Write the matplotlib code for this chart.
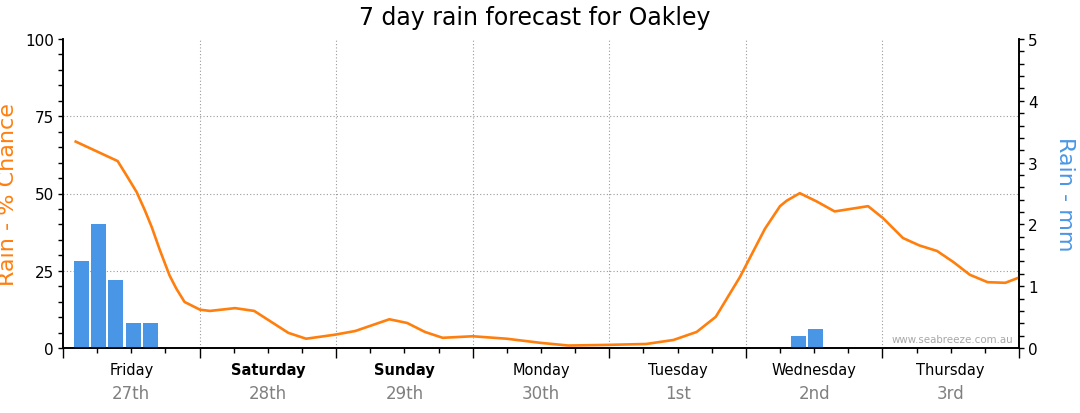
import numpy as np
import matplotlib
matplotlib.use("Agg")
import matplotlib.pyplot as plt
from matplotlib.transforms import blended_transform_factory

# ---- data ----
day_names = ["Friday", "Saturday", "Sunday", "Monday", "Tuesday", "Wednesday", "Thursday"]
day_dates = ["27th", "28th", "29th", "30th", "1st", "2nd", "3rd"]
weekend = [False, True, True, False, False, False, False]

# rain chance (%) vs time in days from start of Friday
chance_t = [0.093, 0.40, 0.466, 0.54, 0.60, 0.65, 0.71, 0.78, 0.83, 0.89,
            1.003, 1.076, 1.26, 1.40, 1.65, 1.78, 1.99, 2.14, 2.39, 2.52,
            2.65, 2.78, 3.0, 3.25, 3.49, 3.70, 3.98, 4.27, 4.47, 4.64,
            4.78, 4.957, 5.14, 5.25, 5.30, 5.395, 5.52, 5.65, 5.895, 6.005,
            6.15, 6.27, 6.40, 6.52, 6.64, 6.77, 6.90, 7.0]
chance_v = [66.8, 60.5, 55.8, 50.4, 44.5, 39.1, 31.6, 23.5, 19.2, 14.9,
            12.4, 12.0, 12.9, 12.0, 4.9, 3.0, 4.3, 5.5, 9.3, 8.1,
            5.2, 3.3, 3.8, 3.0, 1.7, 0.8, 1.0, 1.3, 2.6, 5.2,
            10.1, 23.0, 38.6, 45.9, 47.7, 50.1, 47.4, 44.2, 45.9, 42.0,
            35.6, 33.2, 31.4, 27.8, 23.7, 21.3, 21.1, 22.8]

# rain amount (mm) bars
rain_t = [0.135, 0.261, 0.387, 0.513, 0.639, 5.387, 5.513]
rain_mm = [1.4, 2.0, 1.1, 0.4, 0.4, 0.2, 0.3]

pct_ticks = [0, 25, 50, 75, 100]
mm_ticks = [0, 1, 2, 3, 4, 5]

ORANGE = "#ff7f0e"
BLUE = "#4a96e6"
GRID = "#9a9a9a"

plt.rcParams["font.family"] = ["DejaVu Sans"]

fig = plt.figure(figsize=(10.8, 4.14), dpi=100)
ax = fig.add_axes([63 / 1080, 1 - 349 / 414, (1019 - 63) / 1080, (349 - 40) / 414])
ax2 = ax.twinx()

ax.set_xlim(0, 7)
ax.set_ylim(0, 100)
ax2.set_ylim(0, 5)

# grid (inner lines only)
for v in pct_ticks[1:-1]:
    ax.axhline(v, color=GRID, linestyle=(0, (1, 2)), linewidth=0.8, zorder=0.5)
for d in range(1, len(day_names)):
    ax.axvline(d, color=GRID, linestyle=(0, (1, 2)), linewidth=0.8, zorder=0.5)

# line
ax.plot(chance_t, chance_v, color=ORANGE, lw=1.9, solid_joinstyle="round", zorder=3)

# bars
ax2.bar(rain_t, rain_mm, width=0.11, color=BLUE, zorder=2)

# ticks
ax.set_xticks(range(len(day_names) + 1))
ax.set_xticks(np.arange(0, 7.01, 0.25), minor=True)
ax.set_xticklabels([])
ax.tick_params(axis="x", which="major", length=7, width=1, color="black", direction="out")
ax.tick_params(axis="x", which="minor", length=3.6, width=1, color="black", direction="out")

ax.set_yticks(pct_ticks)
ax.set_yticks(np.arange(0, 101, 5), minor=True)
ax.tick_params(axis="y", which="both", length=3.6, width=1, labelsize=11, pad=3)

ax2.set_yticks(mm_ticks)
ax2.set_yticks(np.arange(0, 5.01, 0.2), minor=True)
ax2.tick_params(axis="y", which="both", length=3.6, width=1, labelsize=11, pad=3)

for a in (ax, ax2):
    a.spines["top"].set_visible(False)
    for s in ("left", "right", "bottom"):
        a.spines[s].set_linewidth(1.2)
        a.spines[s].set_color("black")

# axis labels
ax.set_ylabel("Rain - % Chance", color=ORANGE, fontsize=16)
ax.yaxis.set_label_coords((18 - 63) / 956, 0.5)
ax2.set_ylabel("Rain - mm", color=BLUE, fontsize=16, rotation=270, va="center")
ax2.yaxis.set_label_coords((1065 - 63) / 956, 0.5)

# day labels
tr = blended_transform_factory(ax.transData, fig.transFigure)
for i, (n, d) in enumerate(zip(day_names, day_dates)):
    ax.text(i + 0.5, 1 - 370.5 / 414, n, transform=tr, ha="center", va="center",
            fontsize=10.5, fontweight="bold" if weekend[i] else "normal", color="black")
    ax.text(i + 0.5, 1 - 394 / 414, d, transform=tr, ha="center", va="center",
            fontsize=12, color="#808080")

# title
fig.text(535 / 1080, 1 - 18 / 414, "7 day rain forecast for Oakley", ha="center", va="center",
         fontsize=17, color="black")

# watermark
ax.text(0.994, 0.03, "www.seabreeze.com.au", transform=ax.transAxes, ha="right", va="center",
        fontsize=7.4, color="#a8a8a8")

fig.savefig("out.png", dpi=100)
